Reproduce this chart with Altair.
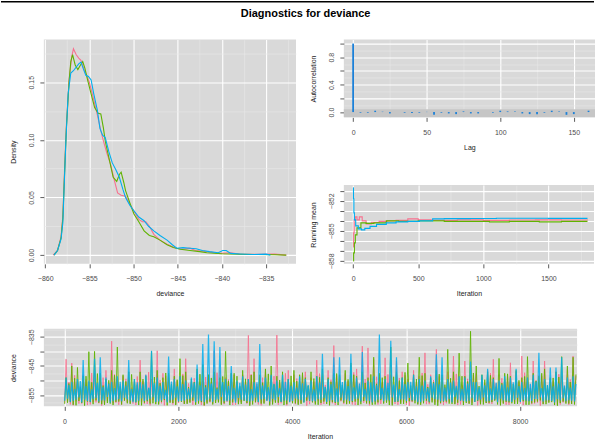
import altair as alt
import pandas as pd

PINK = "#F7718F"
GREEN = "#5FB300"
BLUE = "#00AEEF"
ACF_BLUE = "#1C80D8"
PANEL = "#D9D9D9"
MAJOR = "#FFFFFF"
MINOR = "#E8E8E8"
TICK = "#333333"
LABEL = "#4D4D4D"
FONT = "Liberation Sans"

chain_names = ["1", "2", "3"]
chain_colors = [PINK, GREEN, BLUE]

# ---------------- density of deviance per chain ----------------
dens_x_1 = [-859.1, -858.6, -858.2, -858.0, -857.8, -857.6, -857.3, -857.0, -856.8, -856.5,
            -856.2, -855.95, -855.6, -855.3, -855.0, -854.6, -854.1, -853.7, -853.4, -853.0,
            -852.6, -852.2, -851.8, -851.4, -850.9, -850.4, -849.95, -849.4, -849.0, -848.6,
            -848.2, -847.7, -847.0, -846.2, -845.5, -845.1, -844.4, -843.6, -843.0, -841.7,
            -840.3, -839.0, -838.0, -836.0, -834.0, -832.7]
dens_y_1 = [0.000, 0.004, 0.016, 0.034, 0.075, 0.112, 0.152, 0.172, 0.179, 0.174,
            0.171, 0.169, 0.161, 0.156, 0.150, 0.138, 0.122, 0.108, 0.099, 0.088,
            0.079, 0.066, 0.054, 0.052, 0.051, 0.044, 0.038, 0.031, 0.029, 0.029,
            0.025, 0.018, 0.013, 0.0095, 0.007, 0.006, 0.005, 0.006, 0.004, 0.003,
            0.0015, 0.002, 0.001, 0.0006, 0.0008, 0.000]

dens_x_2 = [-859.0, -858.6, -858.2, -858.0, -857.8, -857.6, -857.3, -857.1, -856.9, -856.6,
            -856.3, -856.0, -855.75, -855.5, -855.2, -854.8, -854.4, -854.0, -853.7, -853.4,
            -853.2, -852.8, -852.3, -851.9, -851.6, -851.4, -851.1, -850.9, -850.4, -849.95,
            -849.4, -848.8, -848.2, -847.7, -847.0, -846.2, -845.5, -844.7, -843.6, -842.5,
            -841.7, -840.0, -838.0, -836.0, -834.0, -832.7]
dens_y_2 = [0.000, 0.004, 0.015, 0.032, 0.072, 0.110, 0.150, 0.168, 0.174, 0.165,
            0.161, 0.165, 0.168, 0.162, 0.152, 0.140, 0.128, 0.123, 0.1225, 0.110,
            0.099, 0.085, 0.0675, 0.064, 0.070, 0.072, 0.063, 0.056, 0.045, 0.0357,
            0.029, 0.021, 0.017, 0.016, 0.013, 0.009, 0.0065, 0.005, 0.004, 0.003,
            0.002, 0.0012, 0.0008, 0.0005, 0.0003, 0.000]

dens_x_3 = [-859.0, -858.6, -858.2, -858.0, -857.8, -857.65, -857.4, -857.1, -856.8, -856.5,
            -856.2, -855.95, -855.7, -855.4, -855.1, -854.8, -854.5, -854.1, -853.8, -853.5,
            -853.2, -852.8, -852.4, -852.0, -851.6, -851.2, -850.9, -850.4, -849.95, -849.4,
            -848.8, -848.3, -847.7, -847.0, -846.2, -845.6, -845.1, -844.4, -843.6, -842.9,
            -842.2, -841.4, -840.4, -839.9, -839.5, -839.0, -838.0, -836.5, -835.0, -834.5]
dens_y_3 = [0.000, 0.004, 0.014, 0.028, 0.070, 0.100, 0.140, 0.158, 0.160, 0.163,
            0.166, 0.1675, 0.162, 0.156, 0.155, 0.152, 0.140, 0.126, 0.110, 0.104,
            0.102, 0.090, 0.080, 0.074, 0.0675, 0.057, 0.050, 0.043, 0.0385, 0.033,
            0.0298, 0.025, 0.021, 0.017, 0.013, 0.009, 0.006, 0.0065, 0.006, 0.0055,
            0.004, 0.003, 0.002, 0.004, 0.004, 0.0015, 0.001, 0.0005, 0.0008, 0.000]

# ---------------- autocorrelation ----------------
acf_lag = [0, 5, 10, 15, 20, 25, 30, 35, 40, 45, 50, 55, 60, 65, 70, 75, 80,
           85, 90, 95, 100, 105, 110, 115, 120, 125, 130, 135, 140, 145, 150, 155, 160]
acf_val = [1.0, -0.01, -0.01, 0.02, 0.005, -0.02, 0.0, -0.01, -0.015, -0.01, 0.003, -0.04,
           -0.01, -0.02, -0.03, 0.01, -0.02, -0.02, 0.0, -0.01, 0.02, 0.01, 0.01, -0.02,
           -0.03, -0.03, -0.01, 0.02, 0.01, -0.04, -0.03, 0.0, 0.02]
acf_band = [-0.077, 0.04]

# ---------------- running means ----------------
rm_iter_1 = [1, 4, 8, 17, 30, 48, 70, 100, 140, 200, 260, 330, 420, 500, 600, 800,
             1000, 1200, 1400, 1600, 1800]
rm_val_1 = [-856.6, -855.2, -853.9, -853.6, -853.9, -853.6, -854.0, -854.3, -854.15, -854.05,
            -854.0, -853.95, -853.8, -853.9, -853.95, -853.9, -853.95, -853.92, -853.9,
            -853.92, -853.93]
rm_iter_2 = [1, 4, 10, 17, 30, 60, 100, 160, 255, 350, 500, 700, 900, 1047, 1200, 1430,
             1600, 1800]
rm_val_2 = [-858.0, -857.2, -856.2, -855.4, -854.7, -854.2, -854.25, -854.2, -854.0, -854.05,
            -854.0, -854.05, -854.05, -854.1, -854.05, -854.1, -854.05, -854.05]
rm_iter_3 = [1, 3, 6, 10, 20, 40, 64, 90, 130, 180, 255, 330, 420, 510, 611, 700, 900,
             1100, 1300, 1500, 1700, 1800]
rm_val_3 = [-850.7, -851.8, -853.2, -853.9, -854.5, -854.8, -854.9, -854.75, -854.55, -854.35,
            -854.2, -854.1, -854.05, -854.0, -853.8, -853.78, -853.76, -853.74, -853.74,
            -853.75, -853.75, -853.75]

# ---------------- traces ----------------
# Each chain is summarised in blocks of 50 iterations by a low and a high draw.
# "_a" lists hold the even blocks (where the large excursions sit), "_b" the odd blocks.
trace_hi_1a = [-842.7, -844.0, -849.5, -848.0, -850.5, -847.5, -849.0, -846.5, -836.5, -849.5,
               -848.5, -847.0, -850.0, -843.0, -848.0, -849.5, -839.8, -847.5, -849.0, -846.0,
               -848.5, -842.5, -849.5, -847.0, -850.0, -848.0, -839.8, -846.5, -849.0, -847.5,
               -850.5, -848.0, -834.5, -842.5, -849.0, -847.0, -848.5, -834.4, -849.5, -846.5,
               -848.0, -850.0, -847.0, -849.0, -843.0, -848.5, -846.5, -838.0, -849.5, -847.5,
               -848.5, -846.0, -838.2, -838.8, -842.7, -849.0, -842.2, -848.0, -843.3, -847.0,
               -849.5, -846.5, -848.5, -840.5, -848.0, -839.3, -849.0, -847.0, -841.6, -848.5,
               -843.3, -849.5, -847.5, -849.0, -846.5, -842.7, -848.0, -849.5, -843.9, -847.0,
               -841.6, -849.0, -843.3, -848.0, -843.3, -849.5, -847.0, -848.5, -846.0, -841.6]
trace_hi_1b = [-850.5, -848.2, -851.8, -849.6, -847.4, -852.0, -849.0, -850.8, -847.9, -851.3,
               -849.4, -852.4, -848.6, -850.2, -847.1, -851.6, -849.8, -848.4, -852.1, -850.0,
               -847.7, -851.0, -849.2, -852.6, -848.8, -850.6, -847.3, -851.4, -849.6, -848.1,
               -852.2, -850.4, -847.8, -851.2, -849.0, -852.5, -848.5, -850.9, -847.5, -851.7,
               -849.3, -848.0, -852.0, -850.3, -847.6, -851.5, -849.7, -848.3, -852.3, -850.1,
               -847.2, -851.1, -849.5, -852.7, -848.7, -850.7, -847.9, -851.9, -849.1, -848.2,
               -852.4, -850.5, -847.4, -851.3, -849.8, -848.6, -852.1, -850.2, -847.7, -851.6,
               -849.4, -848.1, -852.5, -850.8, -847.5, -851.0, -849.2, -848.8, -852.2, -850.4,
               -847.3, -851.4, -849.9, -848.4, -852.6, -850.0, -847.8, -851.8, -849.6, -848.5]
trace_lo_1a = [-857.6, -858.2, -857.1, -857.9, -858.4, -857.4, -857.8, -858.1, -857.0, -857.6,
               -858.3, -857.5, -857.9, -857.2, -858.0, -858.5, -857.4, -857.8, -857.1, -858.2,
               -857.7, -858.0, -857.3, -857.9, -858.4, -857.5, -857.8, -857.2, -858.1, -857.6,
               -858.3, -857.4, -857.9, -857.0, -858.2, -857.6, -858.0, -857.3, -857.8, -858.5,
               -857.5, -857.9, -857.2, -858.1, -857.7, -858.3, -857.4, -857.8, -857.1, -858.0,
               -857.6, -858.4, -857.3, -857.9, -857.5, -858.2, -857.7, -857.1, -858.0, -857.6,
               -858.3, -857.4, -857.9, -857.2, -858.1, -857.5, -858.0, -857.8, -857.3, -858.4,
               -857.6, -857.9, -857.2, -858.2, -857.7, -858.0, -857.4, -857.8, -858.3, -857.5,
               -857.9, -857.1, -858.1, -857.6, -858.0, -857.3, -857.8, -858.2, -857.5, -857.9]
trace_lo_1b = [-857.3, -858.5, -857.9, -856.8, -858.2, -857.5, -858.6, -857.0, -857.8, -858.3,
               -856.9, -857.6, -858.4, -857.2, -858.0, -856.7, -857.9, -858.5, -857.4, -858.1,
               -856.8, -857.7, -858.3, -857.1, -858.6, -857.5, -856.9, -858.0, -857.3, -858.4,
               -857.8, -856.7, -858.2, -857.6, -858.5, -857.0, -857.9, -858.3, -856.8, -857.4,
               -858.1, -857.7, -858.6, -857.2, -856.9, -858.0, -857.5, -858.4, -857.1, -857.8,
               -858.2, -856.7, -857.6, -858.5, -857.3, -858.0, -856.9, -857.9, -858.3, -857.4,
               -858.6, -857.0, -857.7, -858.1, -856.8, -857.5, -858.4, -857.2, -857.9, -858.2,
               -856.9, -857.6, -858.5, -857.3, -858.0, -856.7, -857.8, -858.3, -857.1, -857.6,
               -858.4, -857.0, -857.9, -858.6, -857.4, -856.8, -858.1, -857.5, -858.3, -857.7]

trace_hi_2a = [-849.0, -845.0, -845.5, -848.5, -840.1, -840.0, -847.5, -849.5, -846.5, -838.5,
               -848.0, -847.0, -849.5, -847.0, -848.5, -840.0, -846.5, -849.0, -847.5, -848.5,
               -842.5, -847.0, -849.5, -846.0, -844.5, -848.0, -847.0, -849.0, -840.0, -847.5,
               -848.5, -846.5, -849.5, -847.0, -848.0, -846.0, -845.0, -848.5, -847.0, -849.5,
               -846.5, -848.0, -849.0, -847.0, -848.5, -846.0, -849.0, -847.5, -848.0, -846.5,
               -844.0, -848.5, -847.0, -849.0, -842.0, -847.5, -848.5, -838.5, -847.0, -849.0,
               -844.0, -848.0, -842.0, -847.5, -849.0, -846.5, -848.0, -839.3, -847.0, -840.6,
               -848.5, -833.1, -845.0, -848.0, -847.0, -849.0, -842.4, -847.5, -848.5, -846.5,
               -849.0, -841.8, -847.5, -848.5, -846.0, -849.0, -847.0, -841.8, -845.0, -842.0]
trace_hi_2b = [-851.0, -849.2, -852.3, -848.5, -850.6, -847.6, -851.7, -849.9, -848.2, -852.0,
               -850.3, -847.9, -851.4, -849.5, -852.6, -848.8, -850.9, -847.4, -851.2, -849.7,
               -848.3, -852.2, -850.5, -847.8, -851.6, -849.1, -852.4, -848.6, -850.1, -847.5,
               -851.9, -849.4, -848.1, -852.1, -850.7, -847.7, -851.3, -849.8, -852.5, -848.4,
               -850.2, -847.3, -851.8, -849.3, -848.9, -852.3, -850.4, -847.6, -851.5, -849.6,
               -848.0, -852.0, -850.8, -847.9, -851.1, -849.0, -852.6, -848.7, -850.0, -847.2,
               -851.7, -849.5, -848.3, -852.2, -850.6, -847.8, -851.4, -849.2, -852.4, -848.5,
               -850.3, -847.4, -851.9, -849.7, -848.2, -852.1, -850.9, -847.7, -851.2, -849.9,
               -848.6, -852.5, -850.1, -847.5, -851.6, -849.1, -848.8, -852.3, -850.5, -847.9]
trace_lo_2a = [-858.0, -857.4, -858.5, -857.7, -857.2, -858.1, -857.6, -858.3, -857.9, -857.3,
               -858.2, -857.8, -857.1, -858.4, -857.6, -857.9, -858.1, -857.3, -858.5, -857.7,
               -857.2, -858.0, -857.6, -858.3, -857.4, -857.9, -858.2, -857.5, -857.8, -858.4,
               -857.1, -858.0, -857.7, -858.2, -857.4, -857.9, -858.5, -857.6, -857.3, -858.1,
               -857.8, -858.3, -857.5, -857.0, -858.2, -857.7, -858.0, -857.4, -858.4, -857.6,
               -857.9, -857.2, -858.1, -857.8, -858.3, -857.5, -857.9, -858.4, -857.3, -858.0,
               -857.6, -857.1, -858.2, -857.8, -857.5, -858.3, -857.7, -857.2, -858.0, -857.6,
               -858.4, -857.9, -857.3, -858.1, -857.7, -857.4, -858.2, -857.9, -857.5, -858.0,
               -857.3, -858.3, -857.8, -857.2, -858.1, -857.6, -858.4, -857.7, -857.9, -858.0]
trace_lo_2b = [-857.6, -858.3, -857.0, -858.6, -857.4, -856.8, -858.1, -857.7, -858.4, -857.2,
               -856.9, -858.0, -857.5, -858.5, -857.1, -857.8, -858.2, -856.7, -857.6, -858.4,
               -857.3, -858.0, -856.9, -857.9, -858.5, -857.2, -857.7, -858.3, -856.8, -857.5,
               -858.1, -857.0, -858.6, -857.4, -857.9, -856.7, -858.2, -857.6, -858.4, -857.1,
               -857.8, -858.0, -856.9, -857.5, -858.3, -857.2, -858.5, -857.7, -856.8, -858.1,
               -857.4, -858.4, -857.0, -857.9, -858.2, -856.7, -857.6, -858.5, -857.3, -858.0,
               -857.1, -857.8, -858.3, -856.9, -857.5, -858.6, -857.2, -857.9, -858.1, -856.8,
               -857.7, -858.4, -857.0, -858.2, -857.6, -856.9, -858.5, -857.3, -857.8, -858.0,
               -857.1, -858.3, -857.5, -856.8, -858.1, -857.4, -858.6, -857.2, -857.9, -858.2]

trace_hi_3a = [-849.0, -850.5, -849.5, -843.0, -850.0, -842.5, -842.0, -849.0, -850.5, -848.5,
               -850.0, -843.0, -849.5, -850.5, -848.0, -839.8, -849.0, -850.5, -841.8, -849.5,
               -848.5, -850.0, -849.0, -844.5, -837.5, -834.2, -836.5, -838.5, -849.5, -845.0,
               -850.0, -848.5, -849.5, -850.5, -837.5, -849.0, -848.0, -850.0, -848.0, -849.5,
               -850.5, -848.5, -849.5, -850.0, -848.5, -840.8, -849.5, -842.0, -842.0, -850.0,
               -840.8, -849.0, -840.2, -850.0, -848.5, -834.2, -849.5, -836.4, -842.0, -849.0,
               -850.5, -848.0, -849.5, -850.0, -848.5, -841.0, -842.0, -849.5, -850.0, -848.5,
               -849.0, -843.5, -850.5, -848.0, -846.0, -849.5, -850.0, -848.5, -849.0, -846.0,
               -850.5, -849.0, -848.0, -840.5, -849.5, -845.5, -845.5, -842.0, -849.0, -848.5]
trace_hi_3b = [-851.5, -852.8, -850.2, -851.9, -853.0, -850.8, -852.2, -851.0, -852.6, -850.4,
               -851.7, -852.9, -850.6, -851.3, -852.4, -850.9, -851.8, -853.1, -850.3, -852.0,
               -851.2, -852.7, -850.7, -851.6, -852.3, -851.0, -852.8, -850.5, -851.9, -852.5,
               -850.8, -851.4, -852.9, -850.6, -851.7, -852.2, -851.1, -852.6, -850.4, -851.8,
               -852.4, -850.9, -851.5, -853.0, -850.7, -852.1, -851.3, -852.7, -850.5, -851.9,
               -852.3, -851.0, -852.8, -850.6, -851.6, -852.5, -850.8, -851.4, -852.9, -851.2,
               -850.4, -852.0, -851.7, -852.6, -850.9, -851.3, -852.4, -850.7, -851.8, -852.8,
               -851.0, -850.5, -852.2, -851.6, -852.7, -850.8, -851.4, -852.3, -850.6, -851.9,
               -852.5, -851.1, -850.3, -852.6, -851.5, -852.0, -850.9, -851.7, -852.4, -851.2]
trace_lo_3a = [-856.9, -857.3, -856.6, -857.5, -857.0, -856.4, -857.2, -856.8, -857.6, -856.7,
               -857.1, -856.5, -857.4, -856.9, -857.0, -856.3, -857.3, -856.8, -857.5, -856.6,
               -857.2, -856.9, -856.4, -857.4, -857.0, -856.7, -857.3, -856.5, -857.1, -856.8,
               -857.6, -856.6, -857.0, -856.9, -857.4, -856.4, -857.2, -856.7, -857.3, -856.8,
               -857.0, -856.5, -857.5, -856.9, -857.1, -856.6, -857.3, -856.7, -857.4, -856.8,
               -857.0, -856.4, -857.2, -856.9, -857.5, -856.6, -857.1, -856.8, -857.3, -856.5,
               -857.0, -856.7, -857.4, -856.9, -857.2, -856.4, -857.1, -856.8, -857.5, -856.6,
               -857.0, -856.9, -857.3, -856.5, -857.2, -856.7, -857.4, -856.8, -857.1, -856.6,
               -857.3, -856.9, -857.0, -856.4, -857.2, -856.7, -857.5, -856.8, -857.1, -856.9]
trace_lo_3b = [-856.2, -857.0, -855.8, -856.6, -857.3, -856.0, -856.8, -855.6, -857.1, -856.4,
               -855.9, -856.9, -857.4, -856.1, -856.7, -855.7, -857.2, -856.3, -856.8, -855.9,
               -857.0, -856.5, -855.8, -856.9, -857.3, -856.2, -856.6, -855.6, -857.1, -856.4,
               -856.0, -856.8, -857.2, -855.9, -856.5, -857.0, -856.3, -855.7, -856.9, -857.4,
               -856.1, -856.7, -855.8, -857.1, -856.4, -856.0, -856.8, -857.3, -855.9, -856.6,
               -857.0, -856.2, -855.7, -856.9, -857.2, -856.3, -856.7, -855.8, -857.1, -856.5,
               -856.0, -856.8, -857.4, -856.2, -855.9, -856.6, -857.0, -856.4, -855.7, -856.9,
               -857.2, -856.1, -856.7, -855.8, -857.0, -856.5, -856.2, -856.9, -857.3, -855.9,
               -856.6, -857.1, -856.3, -855.8, -856.8, -857.0, -856.4, -856.1, -856.7, -857.2]

# ---------------- tables ----------------
dens_df = pd.concat([
    pd.DataFrame({"chain": n, "deviance": xs, "density": ys})
    for n, xs, ys in zip(chain_names, [dens_x_1, dens_x_2, dens_x_3], [dens_y_1, dens_y_2, dens_y_3])
])
acf_df = pd.DataFrame({"lag": acf_lag, "acf": acf_val})
band_df = pd.DataFrame({"lo": [acf_band[0]], "hi": [acf_band[1]]})
rm_df = pd.concat([
    pd.DataFrame({"chain": n, "iteration": it, "mean": v})
    for n, it, v in zip(chain_names, [rm_iter_1, rm_iter_2, rm_iter_3], [rm_val_1, rm_val_2, rm_val_3])
])

trace_sets = {
    "1": (trace_lo_1a, trace_hi_1a, trace_lo_1b, trace_hi_1b),
    "2": (trace_lo_2a, trace_hi_2a, trace_lo_2b, trace_hi_2b),
    "3": (trace_lo_3a, trace_hi_3a, trace_lo_3b, trace_hi_3b),
}
trace_rows = []
for n, (lo_a, hi_a, lo_b, hi_b) in trace_sets.items():
    for k in range(len(hi_a)):
        for j, lo, hi in ((2 * k, lo_a[k], hi_a[k]), (2 * k + 1, lo_b[k], hi_b[k])):
            trace_rows.append((n, 50 * j + 5, lo))
            trace_rows.append((n, 50 * j + 30, hi))
trace_df = pd.DataFrame(trace_rows, columns=["chain", "iteration", "deviance"])


def grid_axis(values, major, label_test, title, fmt, **extra):
    """Axis whose ticks sit on major positions; minor positions only add a fainter grid line."""
    return alt.Axis(
        values=values,
        title=title,
        format=fmt,
        labelExpr=f"({label_test}) ? datum.label : ''",
        tickOpacity={"condition": {"test": major, "value": 1}, "value": 0},
        gridColor={"condition": {"test": major, "value": MAJOR}, "value": MINOR},
        gridWidth={"condition": {"test": major, "value": 1.1}, "value": 0.6},
        **extra,
    )


color_of = dict(zip(chain_names, chain_colors))

# ---------------- density panel ----------------
dx = alt.X("deviance:Q", scale=alt.Scale(domain=[-860.15, -831.6], nice=False, zero=False),
           axis=grid_axis([-860, -857.5, -855, -852.5, -850, -847.5, -845, -842.5, -840,
                           -837.5, -835, -832.5],
                          "abs(datum.value % 5) < 0.01", "abs(datum.value % 5) < 0.01",
                          "deviance", "d"))
dy = alt.Y("density:Q", scale=alt.Scale(domain=[-0.0076, 0.187], nice=False, zero=False),
           axis=grid_axis([0, 0.025, 0.05, 0.075, 0.1, 0.125, 0.15, 0.175],
                          "abs(round(datum.value * 1000) % 50) == 0",
                          "abs(round(datum.value * 1000) % 50) == 0", "Density", ".2f"))

topline = alt.Chart(pd.DataFrame({"k": [0]})).mark_rule(
    color="black", strokeWidth=1.5, clip=False
).encode(x=alt.value(-43), x2=alt.value(552), y=alt.value(-38))

dens_layers = [
    alt.Chart(dens_df[dens_df.chain == n]).mark_line(color=color_of[n], strokeWidth=1.1)
    .encode(x=dx, y=dy)
    for n in chain_names
]
density = alt.layer(*dens_layers, topline).properties(width=253, height=225)

# ---------------- autocorrelation panel ----------------
acf_scale = alt.Scale(domain=[-0.077, 1.058], nice=False, zero=False)
acf_axis = grid_axis([0, 0.1, 0.2, 0.3, 0.4, 0.5, 0.6, 0.7, 0.8, 0.9, 1.0],
                     "round(datum.value * 10) % 2 == 0",
                     "round(datum.value * 10) % 4 == 0", "Autocorrelation", ".1f")
ax_ = alt.X("lag:Q", scale=alt.Scale(domain=[-6.3, 164.4], nice=False, zero=False),
            axis=grid_axis([0, 25, 50, 75, 100, 125, 150], "datum.value % 50 == 0",
                           "datum.value % 50 == 0", "Lag", "d"))
band = alt.Chart(band_df).mark_rect(color="#C6C6C6").encode(
    y=alt.Y("lo:Q", scale=acf_scale, axis=acf_axis),
    y2="hi:Q",
    x=alt.value(0), x2=alt.value(252),
)
bars = alt.Chart(acf_df).mark_rule(color=ACF_BLUE, strokeWidth=1.8).encode(
    x=ax_, y=alt.Y("acf:Q", scale=acf_scale, axis=acf_axis), y2=alt.datum(0)
)
acf = alt.layer(band, bars).properties(width=252, height=78)

# ---------------- running mean panel ----------------
rx = alt.X("iteration:Q", scale=alt.Scale(domain=[-71, 1850], nice=False, zero=False),
           axis=grid_axis([0, 250, 500, 750, 1000, 1250, 1500, 1750], "datum.value % 500 == 0",
                          "datum.value % 500 == 0", "Iteration", "d"))
ry = alt.Y("mean:Q", scale=alt.Scale(domain=[-858.3, -850.43], nice=False, zero=False),
           axis=grid_axis([-858, -857.5, -857, -856.5, -856, -855.5, -855, -854.5, -854,
                           -853.5, -853, -852.5, -852, -851.5, -851, -850.5],
                          "datum.value % 1 == 0",
                          "datum.value % 1 == 0 && (datum.value + 852) % 3 == 0",
                          "Running mean", "d"))
rm_layers = [
    alt.Chart(rm_df[rm_df.chain == n]).mark_line(color=color_of[n], strokeWidth=1.1,
                                                 interpolate="step-after")
    .encode(x=rx, y=ry)
    for n in chain_names
]
running = alt.layer(*rm_layers).properties(width=251, height=79)

# ---------------- trace panel ----------------
tx = alt.X("iteration:Q", scale=alt.Scale(domain=[-360, 9000], nice=False, zero=False),
           axis=grid_axis([0, 1000, 2000, 3000, 4000, 5000, 6000, 7000, 8000],
                          "datum.value % 2000 == 0", "datum.value % 2000 == 0",
                          "Iteration", "d", titleX=277))
ty = alt.Y("deviance:Q", scale=alt.Scale(domain=[-858.85, -832.2], nice=False, zero=False),
           axis=grid_axis([-857.5, -855, -852.5, -850, -847.5, -845, -842.5, -840, -837.5,
                           -835, -832.5],
                          "datum.value % 5 == 0", "(datum.value + 835) % 10 == 0",
                          "deviance", "d"))
trace_layers = [
    alt.Chart(trace_df[trace_df.chain == n]).mark_line(
        color=color_of[n], strokeWidth=1.2 if n == "3" else 1.0, opacity=0.85)
    .encode(x=tx, y=ty)
    for n in chain_names
]
trace = alt.layer(*trace_layers).properties(width=535, height=78)

# ---------------- assemble ----------------
# the nested top row reports no height of its own under flush bounds, so the
# spacing below it runs from the top of the first row to the top of the trace panel
right = alt.vconcat(acf, running, spacing=68, bounds="flush")
top = alt.hconcat(density, right, spacing=48, bounds="flush")
chart = alt.vconcat(top, trace, spacing=290, bounds="flush").properties(
    title=alt.TitleParams("Diagnostics for deviance", font=FONT, fontSize=11, fontWeight="bold",
                          color="black", anchor="middle", offset=-18, dx=8),
    padding=0,
    background="white",
).configure_view(
    fill=PANEL, strokeWidth=0
).configure_axis(
    domain=False,
    labelFont=FONT, labelFontSize=7, labelColor=LABEL,
    titleFont=FONT, titleFontSize=7, titleColor="#222222", titleFontWeight="normal",
    tickColor=TICK, tickSize=4, tickWidth=0.8,
).configure_axisY(
    labelAngle=270, labelAlign="center", labelBaseline="bottom", labelPadding=5, titlePadding=11,
).configure_axisX(
    labelPadding=7, titlePadding=8,
)

chart.save("out.html", embed_options={"renderer": "svg", "actions": False})
